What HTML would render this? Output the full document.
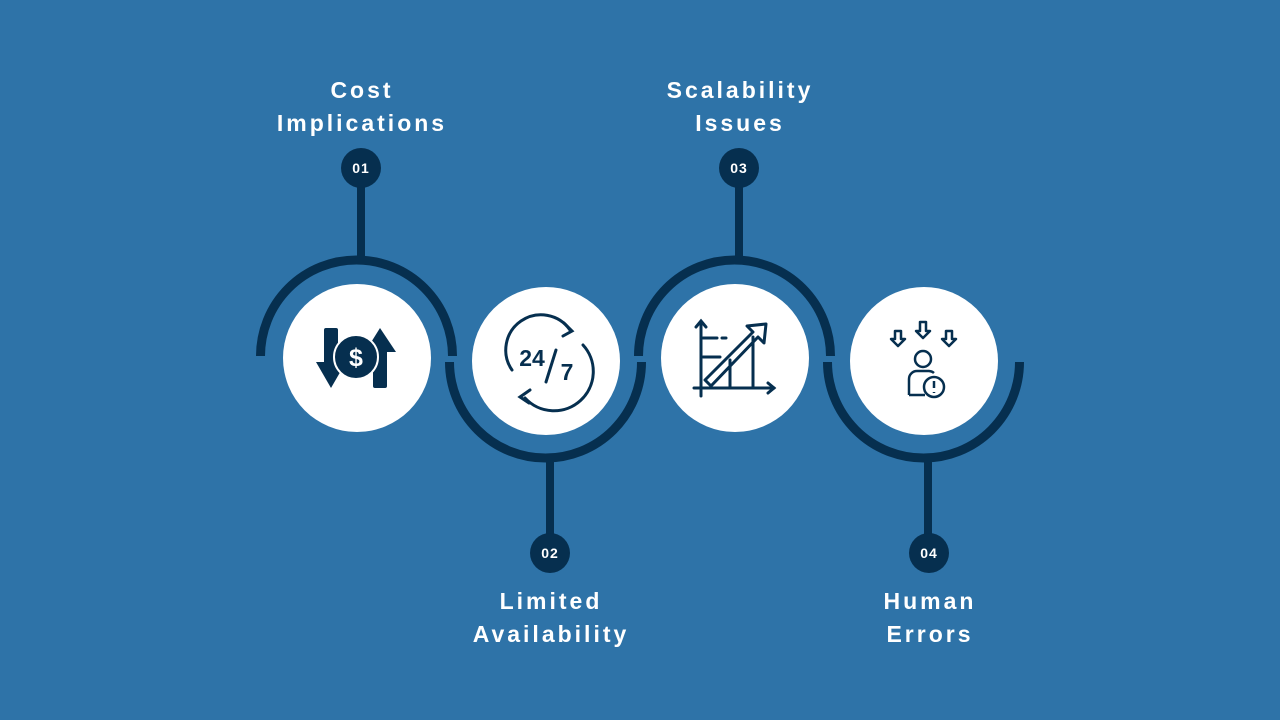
<!DOCTYPE html>
<html><head><meta charset="utf-8"><style>
html,body{margin:0;padding:0;background:#2e73a8;}
svg{display:block}
text{font-family:"Liberation Sans",sans-serif;}
</style></head><body>
<svg width="1280" height="720" viewBox="0 0 1280 720" xmlns="http://www.w3.org/2000/svg">
<rect width="1280" height="720" fill="#2e73a8"/>
<g fill="none" stroke="#062f4f" stroke-width="9">
  <path d="M260.5 356 A96 96 0 0 1 452.5 356"/>
  <path d="M449.5 362 A96 96 0 0 0 641.5 362"/>
  <path d="M638.5 356 A96 96 0 0 1 830.5 356"/>
  <path d="M827.5 362 A96 96 0 0 0 1019.5 362"/>
  <line x1="361" y1="185" x2="361" y2="262" stroke-width="8"/>
  <line x1="550" y1="456" x2="550" y2="535" stroke-width="8"/>
  <line x1="739" y1="185" x2="739" y2="262" stroke-width="8"/>
  <line x1="928" y1="456" x2="928" y2="535" stroke-width="8"/>
</g>
<g fill="#062f4f">
  <circle cx="361" cy="168" r="20"/>
  <circle cx="550" cy="553" r="20"/>
  <circle cx="739" cy="168" r="20"/>
  <circle cx="929" cy="553" r="20"/>
</g>
<g fill="#fff" font-size="14" font-weight="bold" text-anchor="middle" letter-spacing="1">
  <text x="361" y="173">01</text>
  <text x="550" y="558">02</text>
  <text x="739" y="173">03</text>
  <text x="929" y="558">04</text>
</g>
<g fill="#fff">
  <circle cx="357" cy="358" r="74"/>
  <circle cx="546" cy="361" r="74"/>
  <circle cx="735" cy="358" r="74"/>
  <circle cx="924" cy="361" r="74"/>
</g>
<g fill="#fff" font-size="23" font-weight="bold" text-anchor="middle" letter-spacing="3">
  <text x="362" y="98">Cost</text>
  <text x="362" y="131">Implications</text>
  <text x="740" y="98">Scalability</text>
  <text x="740" y="131">Issues</text>
  <text x="551" y="609">Limited</text>
  <text x="551" y="642">Availability</text>
  <text x="930" y="609">Human</text>
  <text x="930" y="642">Errors</text>
</g>
<!-- icon 1 -->
<g fill="#062f4f">
  <rect x="324" y="328" width="14" height="42" rx="2"/>
  <polygon points="316,362 346,362 331,388"/>
  <rect x="373" y="346" width="14" height="42" rx="2"/>
  <polygon points="365,352 396,352 380,328"/>
  <circle cx="356" cy="357" r="22" stroke="#fff" stroke-width="2"/>
  <text x="356" y="366" fill="#fff" font-size="25" font-weight="bold" text-anchor="middle">$</text>
</g>
<!-- icon 2 -->
<g fill="none" stroke="#062f4f" stroke-width="3" stroke-linecap="round">
  <path d="M512 370 A34 34 0 0 1 570 330"/>
  <polyline points="564,323 572,331 563,336"/>
  <path d="M583 345 A34 34 0 0 1 525 398"/>
  <polyline points="530,390 520,397 529,403"/>
  <line x1="546" y1="382" x2="556" y2="350"/>
</g>
<g fill="#062f4f" font-size="23" font-weight="bold" text-anchor="middle">
  <text x="532" y="366">24</text>
  <text x="567" y="380">7</text>
</g>
<!-- icon 3 -->
<g fill="none" stroke="#062f4f" stroke-width="3" stroke-linecap="round">
  <line x1="701" y1="322" x2="701" y2="396"/>
  <polyline points="696,327 701,321 706,327"/>
  <line x1="694" y1="388" x2="774" y2="388"/>
  <polyline points="768,383 774,388 768,393"/>
  <line x1="703" y1="338" x2="717" y2="338"/>
  <line x1="722" y1="338" x2="726" y2="338"/>
  <line x1="703" y1="357" x2="720" y2="357"/>
  <line x1="730" y1="360" x2="730" y2="388"/>
  <line x1="753" y1="337" x2="753" y2="388"/>
  <polygon points="705,380 753,332 747,326 766,324 764,343 758,337 711,386" stroke-linejoin="round"/>
</g>
<!-- icon 4 -->
<g fill="none" stroke="#062f4f" stroke-width="2.5" stroke-linejoin="round">
  <path d="M895 331 h6 v8 h4 l-7 7 l-7 -7 h4z"/>
  <path d="M920 322 h6 v9 h4 l-7 7 l-7 -7 h4z"/>
  <path d="M946 331 h6 v8 h4 l-7 7 l-7 -7 h4z"/>
  <circle cx="923" cy="359" r="8"/>
  <path d="M909 395 v-16 a8 8 0 0 1 8 -8 h12 a8 8 0 0 1 5 2 M925 395 h-16"/>
  <circle cx="934" cy="387" r="10" fill="#fff"/>
  <line x1="934" y1="381" x2="934" y2="388"/>
  <line x1="934" y1="392" x2="934" y2="393"/>
</g>
</svg>
</body></html>
